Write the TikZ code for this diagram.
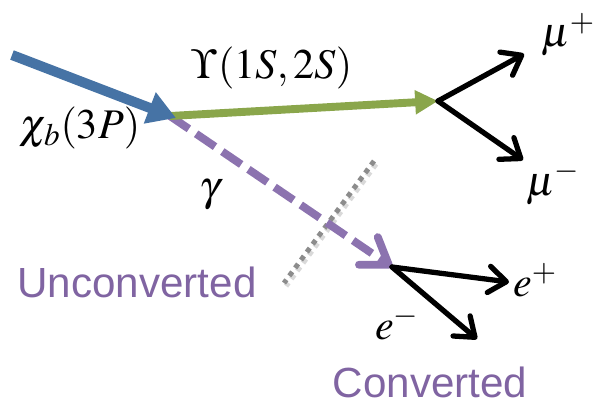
\documentclass[tikz,border=0pt]{standalone}
\usepackage{mathptmx}
\usepackage[no-math]{fontspec}
\newfontfamily\sansfont{Liberation Sans}
\usetikzlibrary{arrows.meta}
\definecolor{bleu}{RGB}{70,115,165}
\definecolor{vert}{RGB}{138,166,75}
\definecolor{violet}{RGB}{140,115,175}
\definecolor{violettexte}{RGB}{128,100,162}
\definecolor{gris}{RGB}{140,140,140}
\tikzset{
  lbl/.style={font=\fontsize{24}{28}\selectfont},
  txt/.style={font=\sansfont\fontsize{24}{28}\selectfont, text=violettexte},
  fille/.style={line width=3pt, line cap=round, -{Straight Barb[round,length=10pt,width=15pt]}}
}

\begin{document}
\begin{tikzpicture}[x=0.02cm,y=-0.02cm]
        \useasboundingbox (0,0) rectangle (594,406);

        % Sommets
        \coordinate (in) at (12,55);
        \coordinate (chib) at (170,116);
        \coordinate (upsv) at (438,101);
        \coordinate (convv) at (392,267);
        \coordinate (mupv) at (524,54);
        \coordinate (mumv) at (523,160);
        \coordinate (epv) at (509,282);
        \coordinate (emv) at (477,339);
        \coordinate (cutA) at (374,161);
        \coordinate (cutB) at (284,283);

        % Coupure
        \draw[gray!30, line width=3pt, dash pattern=on 2.8pt off 2.8pt] ([shift={(2,3)}]cutA) -- ([shift={(2,3)}]cutB);
        \draw[gris, line width=2.8pt, dash pattern=on 2.8pt off 2.8pt] (cutA) -- (cutB);

        % Photon
        \draw[violet, line width=4.5pt, dash pattern=on 13pt off 5pt, -{Straight Barb[round,length=14pt,width=19pt,sep=0pt]}] (chib) -- (convv);

        % Upsilon
        \draw[vert, line width=4.5pt, -{Triangle[length=13pt,width=13pt]}] (chib) -- (upsv);

        % chi_b
        \draw[bleu, line width=5.7pt, -{Triangle[length=16pt,width=18pt]}] (in) -- ([shift={(6,2)}]chib);

        % Muons et electrons
        \draw[fille] (upsv) -- (mupv);
        \draw[fille] (upsv) -- (mumv);
        \draw[fille] (convv) -- (epv);
        \draw[fille] (convv) -- (emv);

        % Labels
        \node[lbl] (chilbl) at (80,128) {$\chi_b(3P)$};
        \node[lbl] (upslbl) at (272,68) {$\Upsilon(1S,2S)$};
        \node[lbl] (gam) at (210,195) {$\gamma$};
        \node[lbl] (mup) at (568,35) {$\mu^+$};
        \node[lbl] (mum) at (553,183) {$\mu^-$};
        \node[lbl] (ep) at (535,280) {$e^+$};
        \node[lbl] (em) at (397,323) {$e^-$};
        \node[txt] (unconv) at (137,282) {Unconverted};
        \node[txt] (conv) at (430,382) {Converted};
    \end{tikzpicture}
\end{document}
